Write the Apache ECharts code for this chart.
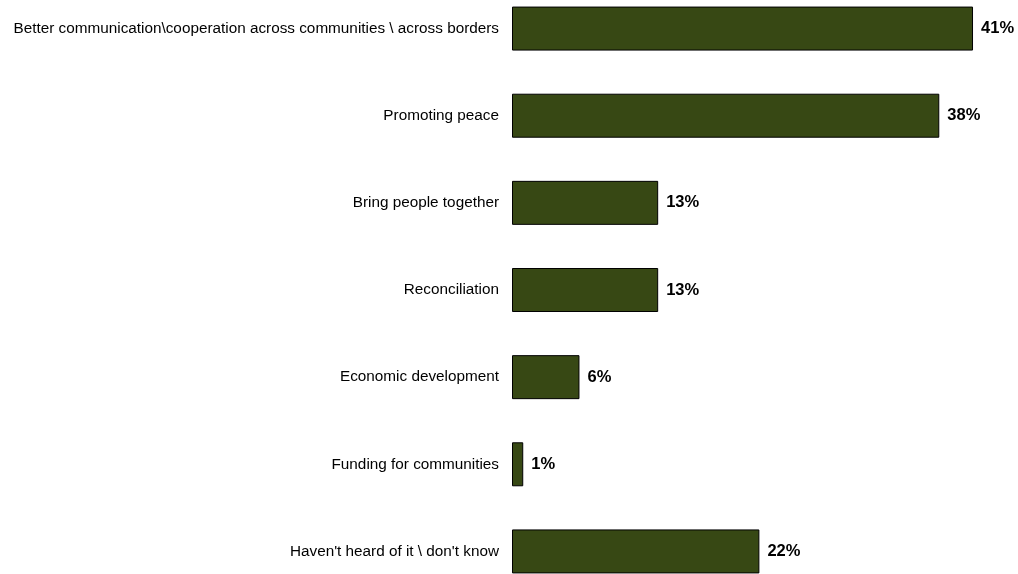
<!DOCTYPE html>
<html>
<head>
<meta charset="utf-8">
<script src="https://cdn.jsdelivr.net/npm/echarts@6/dist/echarts.min.js"></script>
<style>
html,body{margin:0;padding:0;background:#fff;overflow:hidden;width:1018px;height:574px;}
#chart{width:1018px;height:610px;margin-top:-15px;}
</style>
</head>
<body>
<div id="chart"></div>
<script>
const categories = [
  "Better communication\\cooperation across communities \\ across borders",
  "Promoting peace",
  "Bring people together",
  "Reconciliation",
  "Economic development",
  "Funding for communities",
  "Haven't heard of it \\ don't know"
];
const values = [41, 38, 13, 13, 6, 1, 22];

const chart = echarts.init(document.getElementById('chart'), null, {renderer: 'canvas'});
chart.setOption({
  animation: false,
  grid: {left: 512, right: 0, top: 0, bottom: 0, containLabel: false},
  xAxis: {
    type: 'value', min: 0, max: 45,
    show: false
  },
  yAxis: {
    type: 'category',
    inverse: true,
    data: categories,
    axisLine: {show: false},
    axisTick: {show: false},
    axisLabel: {
      margin: 13,
      color: '#000',
      fontFamily: 'Liberation Sans, Arial, sans-serif',
      fontSize: 15.3
    }
  },
  series: [{
    type: 'bar',
    data: values,
    barWidth: 44,
    itemStyle: {color: '#374814', borderColor: '#000', borderWidth: 1},
    label: {
      show: true,
      position: 'right',
      distance: 8,
      formatter: '{c}%',
      color: '#000',
      fontWeight: 'bold',
      fontFamily: 'Liberation Sans, Arial, sans-serif',
      fontSize: 16.5
    }
  }]
});
</script>
</body>
</html>
